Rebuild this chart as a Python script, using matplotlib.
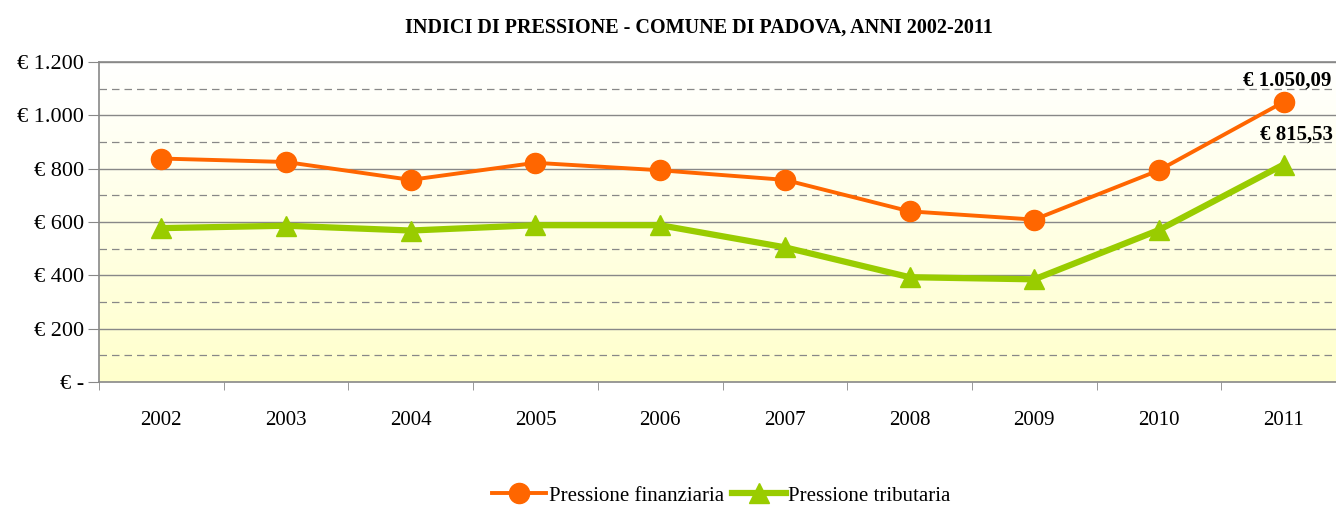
import numpy as np
import matplotlib.pyplot as plt
from matplotlib.colors import LinearSegmentedColormap

plt.rcParams['font.family'] = ['Liberation Serif', 'DejaVu Serif']

# Dati
anni = ['2002', '2003', '2004', '2005', '2006', '2007', '2008', '2009', '2010', '2011']
pressione_finanziaria = [838, 825, 758, 822, 794, 758, 640, 609, 794, 1050.09]
pressione_tributaria = [577, 586, 568, 588, 588, 505, 393, 385, 570, 815.53]
etichette_finali = ['€ 1.050,09', '€ 815,53']
y_ticks = [0, 200, 400, 600, 800, 1000, 1200]
y_labels = ['€ -', '€ 200', '€ 400', '€ 600', '€ 800', '€ 1.000', '€ 1.200']

arancio = '#FF6600'
verde = '#99CC00'

fig = plt.figure(figsize=(13.36, 5.07), dpi=100)
ax = fig.add_axes([99 / 1336, 125 / 507, 1247 / 1336, 320 / 507])

x = np.arange(len(anni))

# Sfondo sfumato bianco (alto) -> giallo chiaro (basso)
cmap = LinearSegmentedColormap.from_list('sfondo', ['#FFFFFF', '#FFFFCC'])
grad = np.linspace(0, 1, 256).reshape(-1, 1)
ax.imshow(grad, aspect='auto', cmap=cmap, origin='upper',
          extent=[-0.5, len(anni) - 0.5, 0, 1200], zorder=0)

# Griglia
for v in range(100, 1200, 200):
    ax.axhline(v, color='#888888', lw=0.9, ls=(0, (6, 4)), zorder=1)
for v in range(200, 1201, 200):
    ax.axhline(v, color='#888888', lw=1.0, zorder=1)

ax.plot(x, pressione_finanziaria, color=arancio, lw=2.8, marker='o', ms=14.5,
        label='Pressione finanziaria', zorder=4)
ax.plot(x, pressione_tributaria, color=verde, lw=4.5, marker='^', ms=15,
        label='Pressione tributaria', zorder=3)

# Etichette ultimo anno
ax.annotate(etichette_finali[0], (x[-1], pressione_finanziaria[-1]), xytext=(-29, 8),
            textcoords='offset points', fontsize=15, fontweight='bold', ha='left',
            va='bottom', annotation_clip=False)
ax.annotate(etichette_finali[1], (x[-1], pressione_tributaria[-1]), xytext=(-17, 14),
            textcoords='offset points', fontsize=15, fontweight='bold', ha='left',
            va='bottom', annotation_clip=False)

ax.set_xlim(-0.5, len(anni) - 0.5)
ax.set_ylim(0, 1200)
ax.set_yticks(y_ticks)
ax.set_yticklabels(y_labels, fontsize=16)
ax.set_xticks(x)
ax.set_xticklabels(anni, fontsize=15)
ax.set_xticks(np.arange(-0.5, len(anni), 1), minor=True)
ax.tick_params(axis='x', which='major', length=0, pad=21)
ax.tick_params(axis='x', which='minor', length=6, color='#888888')
ax.tick_params(axis='y', length=8, color='#888888', pad=3)

for s in ['left', 'bottom', 'top']:
    ax.spines[s].set_color('#888888')
    ax.spines[s].set_linewidth(1.2)
ax.spines['right'].set_visible(False)

fig.text(0.523, 0.945, 'INDICI DI PRESSIONE - COMUNE DI PADOVA, ANNI 2002-2011',
         ha='center', va='center', fontsize=14.5, fontweight='bold')

fig.legend(loc='center', bbox_to_anchor=(0.54, 0.022), ncol=2, frameon=False,
           fontsize=15, handlelength=2.6, handletextpad=0.1, columnspacing=0.4,
           borderpad=0)

fig.savefig('out.png', dpi=100)
